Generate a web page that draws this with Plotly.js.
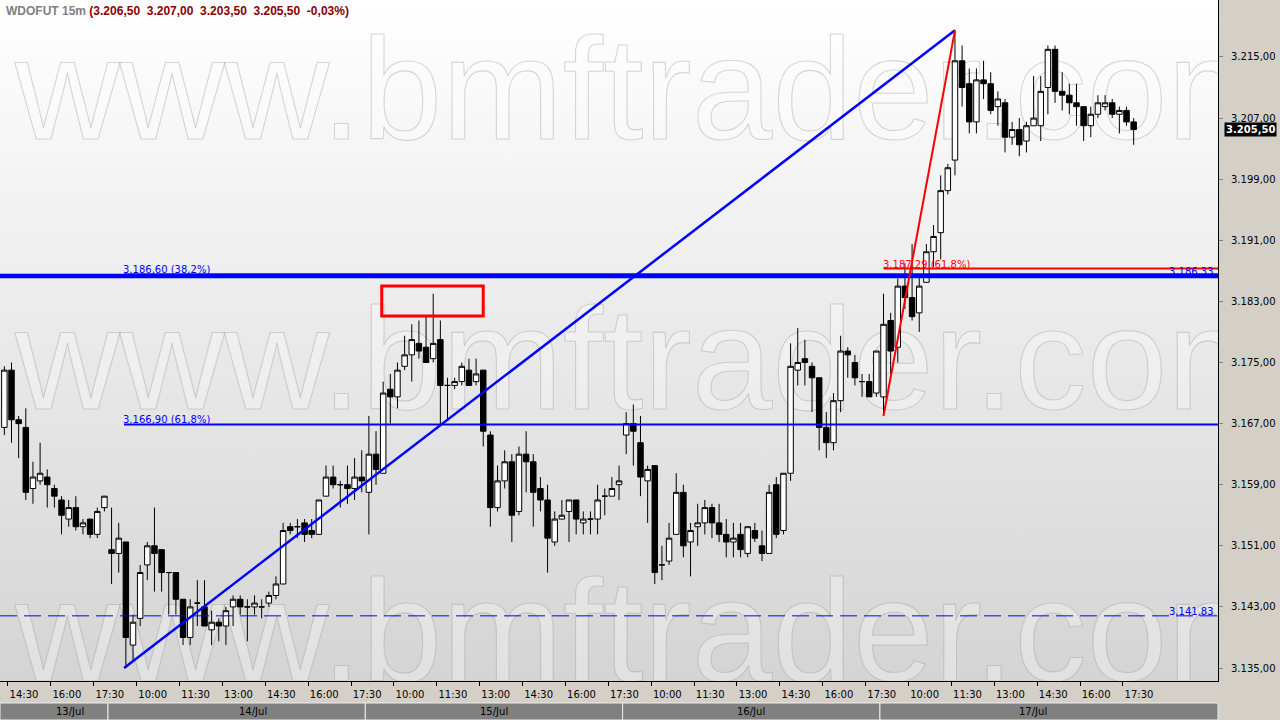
<!DOCTYPE html>
<html><head><meta charset="utf-8">
<script src="https://cdn.plot.ly/plotly-3.0.1.min.js"></script>
<style>
html,body{margin:0;padding:0;background:#d4d0c8;}
#wrap{position:relative;width:1280px;height:720px;overflow:hidden;background:#d4d0c8;}
#bg{position:absolute;left:0;top:0;width:1218px;height:681px;background:linear-gradient(#ffffff,#d4d4d4);overflow:hidden;}
.wm{position:absolute;left:15px;font-family:'Liberation Sans',Arial,sans-serif;font-size:145px;line-height:1;color:rgba(255,255,255,0.3);-webkit-text-stroke:1.1px rgba(150,150,150,0.36);white-space:nowrap;}
#chart{position:absolute;left:0;top:0;width:1280px;height:720px;}
</style></head>
<body><div id="wrap"><div id="bg">
<div class="wm" style="top:17px">www.bmftrader.com</div>
<div class="wm" style="top:287px">www.bmftrader.com</div>
<div class="wm" style="top:559px">www.bmftrader.com</div>
</div><div id="chart"></div></div>
<script>
// ---- categories ----
const days = ['13/Jul','14/Jul','15/Jul','16/Jul','17/Jul'];
const dayFirstBar = ['14:15','09:00','09:00','09:00','09:00'];
const lastBarTime = '17:45';
const timeTickLabels = ['10:00','11:30','13:00','14:30','16:00','17:30'];
const yTickValues = [3135,3143,3151,3159,3167,3175,3183,3191,3199,3207,3215];

// ---- OHLC series (15m bars) ----
const open = [
3166.5,3174.0,3167.5,3166.5,3158.5,3159.5,3160.0,3158.5,3157.0,3154.5,3156.0,3153.5,3154.5,3152.5,3156.0,
3150.5,3150.0,3151.5,3138.0,3141.5,3148.5,3151.0,3150.5,3147.5,3147.5,
3144.0,3139.0,3143.5,3143.0,3140.0,3141.0,3140.5,3143.0,3144.0,3143.0,
3143.0,3143.0,3143.5,3144.5,3146.0,3153.5,3153.5,3154.0,3153.0,3152.5,
3157.5,3160.0,3159.0,3159.0,3158.5,3160.0,3158.0,3163.0,3160.5,3171.5,
3170.5,3174.5,3176.0,3177.5,3177.0,3175.5,3178.0,3172.0,3172.0,3172.5,
3174.0,3172.5,3174.0,3165.5,3156.0,3159.5,3162.0,3155.5,3163.0,3162.0,
3158.5,3157.0,3151.5,3154.5,3155.5,3157.0,3154.0,3154.5,3154.5,3157.5,
3157.5,3159.0,3165.5,3167.0,3164.5,3159.5,3161.5,3148.5,3149.0,3152.5,
3158.0,3151.5,3153.5,3154.0,3156.0,3154.0,3152.5,3151.5,3152.5,3150.0,
3153.0,3151.0,3150.0,3159.0,3153.0,3160.5,3174.0,3175.5,3174.5,3173.0,
3166.5,3164.5,3170.0,3176.5,3175.0,3172.5,3172.5,3171.0,3170.5,3180.5,
3177.0,3185.0,3183.5,3181.5,3185.5,3189.5,3192.0,3197.5,3201.5,3214.5,
3211.5,3206.5,3212.0,3211.5,3208.5,3209.0,3204.5,3205.5,3204.0,3206.0,
3206.0,3211.0,3216.0,3210.5,3210.0,3209.0,3208.5,3206.0,3207.5,3208.5,
3209.0,3207.5,3208.0,3206.5];
const high = [
3174.5,3175.0,3168.0,3169.0,3162.0,3164.5,3161.0,3159.0,3157.5,3157.0,3157.5,3154.5,3154.5,3156.0,3157.5,
3156.0,3154.0,3151.5,3142.0,3148.5,3151.5,3156.0,3150.5,3147.5,3147.5,
3144.0,3144.0,3146.5,3146.5,3142.5,3141.5,3143.0,3144.5,3144.5,3144.0,
3144.5,3144.0,3145.0,3147.0,3154.0,3154.0,3154.5,3154.5,3154.5,3157.0,
3161.5,3161.5,3159.5,3161.5,3162.5,3163.5,3168.0,3166.0,3172.5,3173.5,
3175.0,3178.5,3180.0,3180.5,3181.0,3184.0,3180.5,3173.0,3173.0,3175.0,
3175.5,3175.5,3174.0,3166.0,3161.5,3163.5,3163.0,3164.0,3166.0,3163.0,
3160.0,3159.0,3155.5,3157.0,3157.0,3157.0,3155.5,3155.5,3159.0,3158.5,
3160.0,3161.5,3168.5,3169.5,3168.0,3161.5,3161.5,3151.0,3154.0,3160.5,
3159.0,3154.0,3156.5,3157.0,3156.5,3156.5,3154.5,3154.0,3154.0,3153.5,
3154.0,3153.0,3159.0,3160.0,3160.5,3177.5,3179.5,3178.0,3175.0,3173.0,
3168.5,3171.0,3178.5,3177.0,3176.0,3173.5,3173.5,3176.5,3184.0,3181.5,
3186.0,3188.0,3190.5,3186.5,3190.5,3193.0,3199.5,3201.0,3218.5,3216.5,
3213.5,3213.5,3214.5,3213.0,3210.5,3209.5,3206.5,3207.0,3206.5,3212.5,
3212.5,3216.5,3216.5,3213.0,3211.5,3211.5,3208.5,3208.5,3210.0,3210.0,
3209.5,3208.5,3208.5,3207.0];
const low = [
3165.5,3164.5,3162.5,3157.0,3156.5,3159.0,3156.0,3156.0,3152.5,3153.5,3153.0,3152.5,3152.0,3152.0,3155.5,
3146.0,3147.5,3135.0,3136.0,3140.5,3146.5,3145.0,3145.0,3142.0,3142.0,
3138.0,3138.0,3140.5,3140.5,3138.0,3138.5,3138.0,3140.5,3142.0,3138.5,
3142.0,3141.5,3143.0,3144.0,3146.0,3152.5,3152.0,3151.5,3152.0,3152.5,
3157.5,3158.5,3156.0,3156.5,3157.0,3158.0,3152.5,3159.0,3160.5,3167.0,
3169.0,3174.0,3172.5,3175.5,3175.0,3175.0,3167.0,3167.5,3171.5,3172.0,
3172.0,3172.0,3164.0,3153.5,3155.5,3158.5,3151.5,3155.0,3158.0,3153.5,
3155.5,3147.5,3151.0,3154.5,3151.5,3152.5,3152.5,3152.5,3152.5,3155.0,
3157.5,3157.0,3163.0,3161.5,3157.5,3154.0,3146.0,3146.5,3148.5,3152.5,
3149.5,3147.0,3151.0,3152.5,3152.0,3151.5,3149.5,3149.5,3149.5,3149.5,
3151.5,3149.0,3150.0,3152.0,3152.5,3159.5,3172.0,3172.0,3168.5,3163.5,
3162.5,3163.5,3168.5,3173.0,3172.0,3170.5,3170.5,3170.5,3168.0,3173.5,
3175.0,3182.0,3180.5,3179.0,3185.5,3187.5,3188.5,3197.0,3199.5,3208.5,
3205.0,3205.0,3209.5,3207.5,3206.0,3202.5,3203.5,3202.0,3202.5,3206.0,
3204.0,3207.5,3209.0,3208.0,3207.5,3206.0,3204.0,3204.5,3207.0,3208.0,
3207.0,3205.0,3206.0,3203.5];
const close = [
3174.0,3167.5,3167.0,3158.0,3160.0,3160.5,3159.0,3157.5,3155.0,3156.0,3153.5,3154.0,3152.5,3155.5,3157.5,
3150.0,3152.0,3139.0,3141.0,3147.5,3151.0,3150.0,3147.5,3147.5,3144.0,
3139.0,3143.0,3143.5,3140.5,3141.0,3140.5,3142.5,3144.0,3143.0,3143.0,
3143.5,3143.0,3144.5,3146.0,3153.0,3153.0,3153.5,3152.5,3152.5,3157.0,
3160.0,3159.0,3159.0,3158.5,3160.0,3159.5,3163.0,3161.0,3171.0,3170.5,
3174.0,3176.0,3178.0,3176.5,3175.0,3177.5,3172.0,3172.0,3172.5,3174.5,
3172.0,3173.5,3166.0,3156.0,3159.5,3162.0,3155.0,3163.0,3162.0,3158.0,
3157.0,3152.0,3154.5,3155.0,3157.0,3154.5,3154.5,3154.5,3157.0,3157.5,
3158.5,3159.5,3167.0,3166.0,3160.0,3161.0,3147.5,3148.5,3152.0,3158.0,
3151.0,3153.0,3154.0,3156.0,3154.0,3152.5,3151.5,3152.0,3150.5,3153.5,
3152.0,3150.0,3158.0,3152.5,3160.5,3174.5,3175.0,3175.0,3173.0,3166.5,
3164.5,3170.0,3176.5,3176.0,3173.0,3172.5,3170.5,3176.5,3180.0,3176.5,
3185.0,3183.5,3181.0,3185.0,3189.5,3191.5,3197.5,3200.5,3214.5,3211.0,
3206.5,3212.0,3211.5,3208.0,3209.5,3204.5,3205.5,3203.5,3206.0,3207.0,
3210.5,3216.0,3210.5,3210.0,3209.0,3208.5,3206.0,3207.5,3209.0,3209.0,
3207.5,3208.0,3206.5,3205.5];

// ---- drawings (analysis tools) ----
const fibAnchorBars = [17, 133];          // blue retracement: swing low bar -> swing high bar
const fibAnchorPrices = [3135.0, 3218.5];
const fibRatios = [0.382, 0.618];
const redAnchorBars = [123, 133];
const redAnchorPrices = [3168.0, 3218.5];
const redRatios = [0.618];
const hLinePrices = [3186.33, 3141.83];
const boxBars = [52.8, 67];
const boxPrices = [3181.1, 3185.0];
const titleText = 'WDOFUT 15m';
const titleValues = '(3.206,50\u00a0\u00a03.207,00\u00a0\u00a03.203,50\u00a0\u00a03.205,50\u00a0\u00a0-0,03%)';

// ---- build ----
function toMin(t){const p=t.split(':').map(Number);return p[0]*60+p[1];}
function fmtT(m){return String(Math.floor(m/60)).padStart(2,'0')+':'+String(m%60).padStart(2,'0');}
const barTime=[], barDay=[];
days.forEach((d,k)=>{for(let m=toMin(dayFirstBar[k]); m<=toMin(lastBarTime); m+=15){barTime.push(fmtT(m)); barDay.push(k);}});
const xIdx = barTime.map((_,i)=>i);
const fmtP = v => v.toFixed(2).replace('.',',').replace(/^(\d)(\d{3})/,'$1.$2');

const xr = [-0.61, 169.8];
const yr = [3133.3, 3222.46];
const toPaper = v => (v - xr[0])/(xr[1]-xr[0]);
const labelOffsetBars = 2.25;   // labels sit to the right of their tick mark

const tickvals=[], ticktext=[], labelvals=[];
barTime.forEach((t,i)=>{ if(timeTickLabels.includes(t)){ tickvals.push(i-0.5); labelvals.push(i-0.5+labelOffsetBars); ticktext.push(t);} });

const BLUE='#0000ff', RED='#ff0000';
const shapes=[], annotations=[];
const lblFont = c => ({family:'DejaVu Sans, sans-serif', size:10, color:c});

// horizontal lines across the full width
hLinePrices.forEach((p,k)=>{
  shapes.push({type:'line', xref:'x', yref:'y', x0:xr[0], x1:xr[1], y0:p, y1:p,
    line:{color:BLUE, width:k===0?4.5:1, dash:k===0?'solid':'17px,7px'}});
  annotations.push({xref:'x', yref:'y', x:xr[1], y:p, xanchor:'right', yanchor:'bottom', xshift:-2, yshift:-3,
    text:fmtP(p), showarrow:false, font:lblFont(BLUE)});
});
// blue retracement
fibRatios.forEach((r,k)=>{
  const lv = fibAnchorPrices[1] - r*(fibAnchorPrices[1]-fibAnchorPrices[0]);
  shapes.push({type:'line', xref:'x', yref:'y', x0:fibAnchorBars[0]-0.25, x1:xr[1], y0:lv, y1:lv,
    line:{color:BLUE, width:k===0?1:2}});
  annotations.push({xref:'x', yref:'y', x:fibAnchorBars[0]-0.25, y:lv, xanchor:'left', yanchor:'bottom', xshift:-3, yshift:-3,
    text:fmtP(lv)+' ('+(r*100).toFixed(1).replace('.',',')+'%)', showarrow:false, font:lblFont(BLUE)});
});
shapes.push({type:'line', xref:'x', yref:'y', x0:fibAnchorBars[0]-0.25, y0:fibAnchorPrices[0], x1:fibAnchorBars[1], y1:fibAnchorPrices[1],
  line:{color:BLUE, width:2.5}});
// red retracement
redRatios.forEach(r=>{
  const lv = redAnchorPrices[1] - r*(redAnchorPrices[1]-redAnchorPrices[0]);
  shapes.push({type:'line', xref:'x', yref:'y', x0:redAnchorBars[0], x1:xr[1], y0:lv, y1:lv, line:{color:RED, width:2}});
  annotations.push({xref:'x', yref:'y', x:redAnchorBars[0], y:lv, xanchor:'left', yanchor:'bottom', xshift:-3, yshift:-3,
    text:fmtP(lv)+' ('+(r*100).toFixed(1).replace('.',',')+'%)', showarrow:false, font:lblFont(RED)});
});
shapes.push({type:'line', xref:'x', yref:'y', x0:redAnchorBars[0], y0:redAnchorPrices[0], x1:redAnchorBars[1], y1:redAnchorPrices[1],
  line:{color:RED, width:2}});
// highlight rectangle
shapes.push({type:'rect', xref:'x', yref:'y', x0:boxBars[0], x1:boxBars[1], y0:boxPrices[0], y1:boxPrices[1],
  line:{color:RED, width:3}, fillcolor:'rgba(0,0,0,0)'});

// date bar
days.forEach((d,k)=>{
  const idx = xIdx.filter(i=>barDay[i]===k);
  const a = k===0 ? xr[0] : idx[0]-0.5;
  const b = k===days.length-1 ? xr[1] : idx[idx.length-1]+0.5;
  shapes.push({type:'rect', xref:'paper', yref:'paper', ysizemode:'pixel', yanchor:0,
    x0:toPaper(a), x1:toPaper(b), y0:-22, y1:-39, fillcolor:'#808080', line:{color:'#ececec', width:1}, layer:'above'});
  annotations.push({xref:'paper', yref:'paper', x:(toPaper(a)+toPaper(b))/2, y:0, yshift:-30, yanchor:'middle',
    text:d, showarrow:false, font:{family:'DejaVu Sans, sans-serif', size:10, color:'#000'}});
});

// title
annotations.push({xref:'paper', yref:'paper', x:0, y:1, xanchor:'left', yanchor:'top', xshift:4, yshift:-2, showarrow:false,
  text:'<span style="color:#808080">'+titleText+'</span> <span style="color:#8b0000">'+titleValues+'</span>',
  font:{family:'Liberation Sans, Arial, sans-serif', size:12, weight:'bold', color:'#808080'}});
// last price tag
annotations.push({xref:'paper', yref:'y', x:1, y:close[close.length-1], xanchor:'left', yanchor:'middle', xshift:6,
  text:fmtP(close[close.length-1]), showarrow:false, bgcolor:'#000000', borderpad:1,
  font:{family:'DejaVu Sans, sans-serif', size:10, weight:'bold', color:'#ffffff'}});

const trace = {type:'candlestick', x:xIdx, open:open, high:high, low:low, close:close,
  increasing:{line:{color:'#000', width:1}, fillcolor:'#ffffff'},
  decreasing:{line:{color:'#000', width:1}, fillcolor:'#000000'},
  whiskerwidth:0, hoverinfo:'skip', showlegend:false};
const labelCarrier = {type:'scatter', x:[], y:[], xaxis:'x2', yaxis:'y', hoverinfo:'skip', showlegend:false};

const axFont = {family:'DejaVu Sans, sans-serif', size:10, color:'#000'};
const layout = {
  width:1280, height:720, margin:{l:0, r:62, t:0, b:39},
  paper_bgcolor:'rgba(0,0,0,0)', plot_bgcolor:'rgba(0,0,0,0)',
  separators:',.', showlegend:false, boxgap:0.1, boxgroupgap:0.15,
  xaxis:{range:xr, rangeslider:{visible:false}, showgrid:false, zeroline:false, showline:true, linecolor:'#000', linewidth:1,
    ticks:'outside', ticklen:4, tickcolor:'#000', tickvals:tickvals, showticklabels:false, fixedrange:true},
  xaxis2:{range:xr, overlaying:'x', anchor:'y', side:'bottom', showgrid:false, zeroline:false, showline:false,
    ticks:'', tickvals:labelvals, ticktext:ticktext, ticklabelstandoff:6, tickfont:axFont, fixedrange:true},
  yaxis:{range:yr, side:'right', showgrid:false, zeroline:false, showline:true, linecolor:'#000', linewidth:1,
    ticks:'outside', ticklen:4, tickcolor:'#808080', tickvals:yTickValues, tickformat:',.2f', ticklabelstandoff:6,
    tickfont:axFont, fixedrange:true},
  shapes:shapes, annotations:annotations
};
Plotly.newPlot('chart', [trace, labelCarrier], layout, {displayModeBar:false, staticPlot:true});
</script>
</body></html>
